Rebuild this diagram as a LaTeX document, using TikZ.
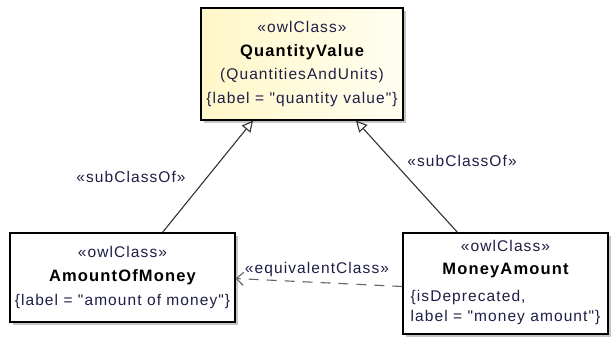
\documentclass[tikz,border=0pt]{standalone}
\usepackage{fontspec}
\setmainfont[LetterSpace=7, Ligatures=TeXOff]{Liberation Sans}
\usetikzlibrary{arrows.meta, positioning, shadows}

\definecolor{owlink}{RGB}{30,30,70}
\definecolor{owlline}{RGB}{50,50,50}
\definecolor{owldash}{RGB}{100,100,100}
\definecolor{owlyellow}{RGB}{255,247,200}
\definecolor{owlpale}{RGB}{255,254,240}

\newcommand{\owlstereo}[1]{«#1»}
\newcommand{\owlname}[1]{\textcolor{black}{\fontsize{16.5}{23.5}\selectfont\bfseries #1}}

\begin{document}
\begin{tikzpicture}[
    x=1pt, y=-1pt,
    owlbox/.style={
        draw=black,
        line width=1.2pt,
        fill=white,
        align=center,
        inner sep=2pt,
        text=owlink,
        font=\fontsize{15.5}{23.5}\selectfont,
        drop shadow={shadow xshift=3pt, shadow yshift=-3pt, fill=black!45}
    },
    subclass/.style={
        draw=owlline,
        line width=1.1pt,
        -{Triangle[open, length=11pt, width=11pt, fill=white]}
    },
    equivalent/.style={
        draw=owldash,
        line width=1.1pt,
        dash pattern=on 10pt off 8pt,
        -{Straight Barb[length=7pt, width=13pt, line width=1.1pt]}
    },
    edgelabel/.style={
        text=owlink,
        font=\fontsize{15.5}{18}\selectfont,
        inner sep=1pt
    }
]
    \useasboundingbox (0,0) rectangle (612,346);

    \node[owlbox, left color=owlyellow, right color=owlpale,
          minimum width=202pt, minimum height=112pt] (qvalue) at (302,64) {
        \owlstereo{owlClass}\\
        \owlname{QuantityValue}\\
        (QuantitiesAndUnits)\\
        \{label = "quantity value"\}
    };
    \node[owlbox, minimum width=225pt, minimum height=89pt] (amountofmoney) at (122.5,277.5) {
        \owlstereo{owlClass}\\
        \owlname{AmountOfMoney}\\[1pt]
        \{label = "amount of money"\}
    };
    \node[owlbox, minimum width=205pt, minimum height=101pt] (moneyamount) at (505.5,283.5) {
        \owlstereo{owlClass}\\
        \owlname{MoneyAmount}\\[3pt]
        \fontsize{15.5}{20}\selectfont
        \begin{tabular}[t]{@{}l@{}}
            \{isDeprecated,\\
            label = "money amount"\}
        \end{tabular}
    };

    % generalisations
    \draw[subclass] ([xshift=40pt]amountofmoney.north) -- ([xshift=-49pt]qvalue.south);
    \draw[subclass] ([xshift=-48pt]moneyamount.north) -- ([xshift=54pt]qvalue.south);
    \node[edgelabel] (subleft) at (131,177) {\owlstereo{subClassOf}};
    \node[edgelabel] (subright) at (462,161) {\owlstereo{subClassOf}};

    % equivalence
    \draw[equivalent] ([yshift=-3pt]moneyamount.west) -- ([yshift=-1pt]amountofmoney.east);
    \node[edgelabel] (equiv) at (317,269) {\owlstereo{equivalentClass}};
\end{tikzpicture}
\end{document}
